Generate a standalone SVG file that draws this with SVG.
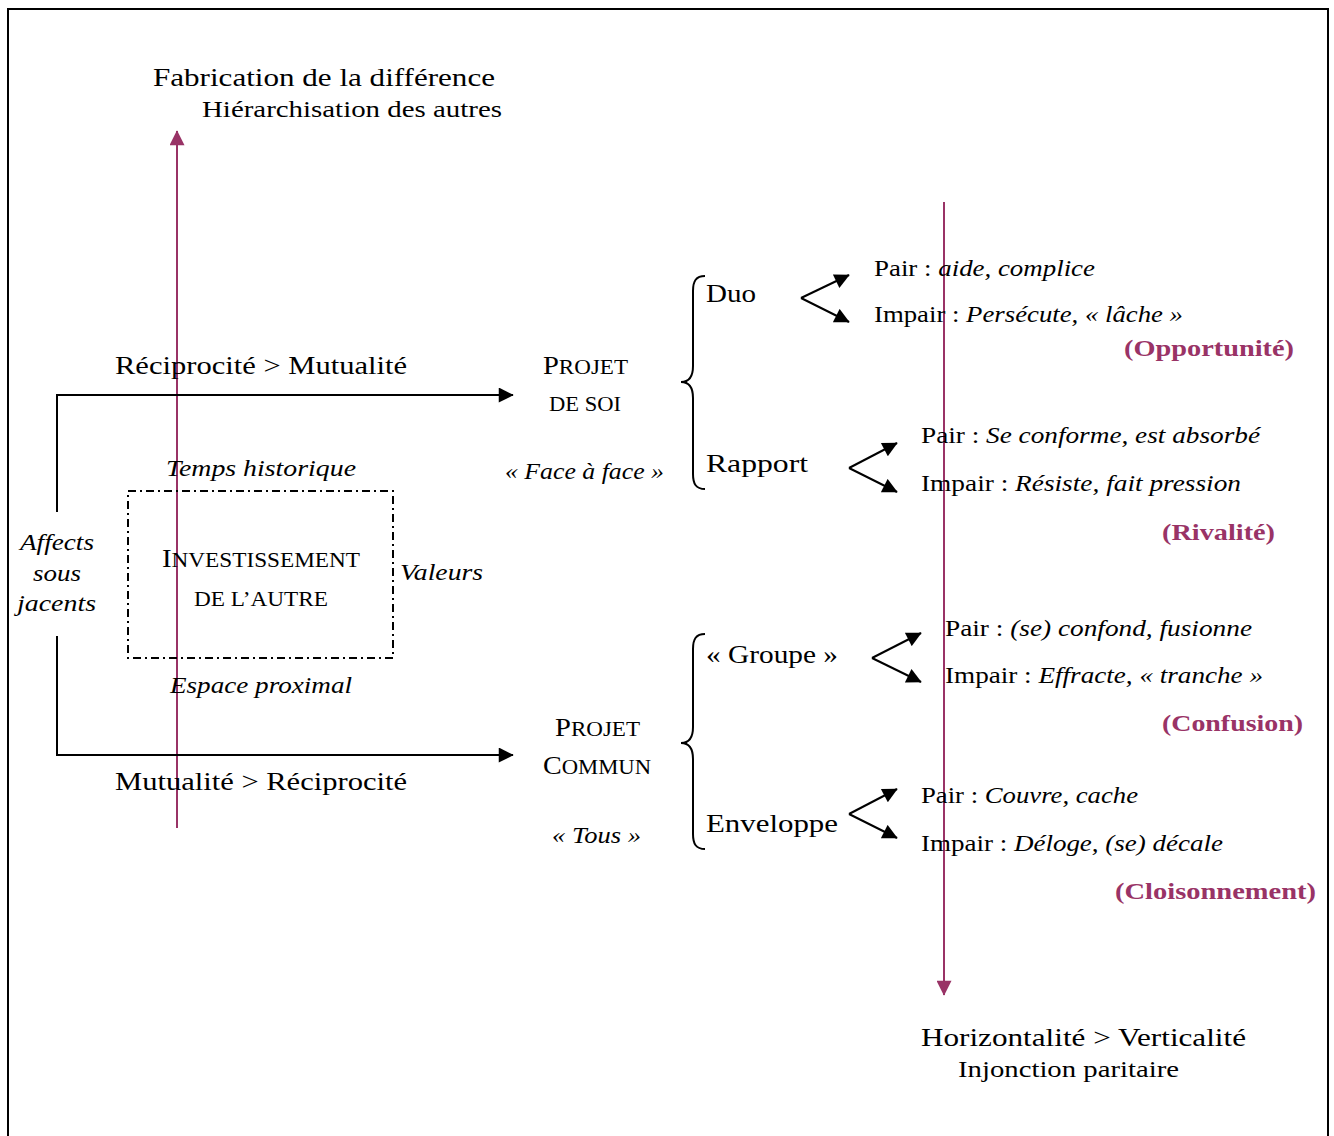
<svg xmlns="http://www.w3.org/2000/svg" width="1334" height="1136" viewBox="0 0 1334 1136">
<defs>
<marker id="ah" viewBox="0 0 10 10" refX="9.5" refY="5" markerUnits="userSpaceOnUse" markerWidth="17" markerHeight="15" orient="auto"><path d="M0,0 L10,5 L0,10 z" fill="#000"/></marker>
<marker id="ahp" viewBox="0 0 10 10" refX="9.5" refY="5" markerUnits="userSpaceOnUse" markerWidth="17" markerHeight="15" orient="auto"><path d="M0,0 L10,5 L0,10 z" fill="#993366"/></marker>
<style>
text{font-family:"Liberation Serif","Times New Roman",serif;fill:#000;}
.big{font-size:26px;}
.mid{font-size:23px;}
.it{font-style:italic;}
.sc{font-size:21px;}
.lab{font-size:23px;font-weight:bold;fill:#993366;}
.blk{stroke:#000;stroke-width:2;fill:none;}
.pur{stroke:#993366;stroke-width:2;fill:none;}
</style>
</defs>
<rect x="8" y="9" width="1320" height="1200" fill="#fff" stroke="#000" stroke-width="2"/>

<g id="connectors">
<line class="pur" x1="177" y1="828" x2="177" y2="131" marker-end="url(#ahp)"/>
<line class="pur" x1="944" y1="202" x2="944" y2="995" marker-end="url(#ahp)"/>
<polyline class="blk" points="57,512 57,395 513,395" marker-end="url(#ah)"/>
<polyline class="blk" points="57,636 57,755 513,755" marker-end="url(#ah)"/>
<path class="blk" d="M705,276 C696,276 693,281 693,291 L693,366 C693,376 690,382 681,382 C690,382 693,388 693,398 L693,474 C693,484 696,489 705,489"/>
<path class="blk" d="M705,634 C696,634 693,639 693,649 L693,727 C693,737 690,743 681,743 C690,743 693,749 693,759 L693,834 C693,844 696,849 705,849"/>
<line class="blk" x1="801" y1="298" x2="849" y2="275" marker-end="url(#ah)"/>
<line class="blk" x1="801" y1="298" x2="849" y2="322" marker-end="url(#ah)"/>
<line class="blk" x1="849" y1="468" x2="897" y2="443" marker-end="url(#ah)"/>
<line class="blk" x1="849" y1="468" x2="897" y2="492" marker-end="url(#ah)"/>
<line class="blk" x1="872" y1="658" x2="921" y2="633" marker-end="url(#ah)"/>
<line class="blk" x1="872" y1="658" x2="921" y2="682" marker-end="url(#ah)"/>
<line class="blk" x1="849" y1="814" x2="897" y2="789" marker-end="url(#ah)"/>
<line class="blk" x1="849" y1="814" x2="897" y2="838" marker-end="url(#ah)"/>
</g>

<g id="top-label">
<text class="big" x="153" y="86" textLength="342" lengthAdjust="spacingAndGlyphs">Fabrication de la différence</text>
<text class="mid" x="202" y="117" textLength="300" lengthAdjust="spacingAndGlyphs">Hiérarchisation des autres</text>
</g>
<g id="bottom-label">
<text class="big" x="921" y="1046" textLength="325" lengthAdjust="spacingAndGlyphs">Horizontalité &gt; Verticalité</text>
<text class="mid" x="958" y="1077" textLength="221" lengthAdjust="spacingAndGlyphs">Injonction paritaire</text>
</g>
<g id="edge-labels">
<text class="big" x="115" y="374" textLength="292" lengthAdjust="spacingAndGlyphs">Réciprocité &gt; Mutualité</text>
<text class="big" x="115" y="790" textLength="292" lengthAdjust="spacingAndGlyphs">Mutualité &gt; Réciprocité</text>
</g>
<g id="affects">
<text class="mid it" x="20" y="550" textLength="74" lengthAdjust="spacingAndGlyphs">Affects</text>
<text class="mid it" x="33" y="581" textLength="48" lengthAdjust="spacingAndGlyphs">sous</text>
<text class="mid it" x="17" y="611" textLength="79" lengthAdjust="spacingAndGlyphs">jacents</text>
</g>
<g id="investissement">
<rect x="128" y="491" width="265" height="167" fill="none" stroke="#000" stroke-width="2" stroke-dasharray="8,4,2,4"/>
<text class="mid it" x="166" y="476" textLength="190" lengthAdjust="spacingAndGlyphs">Temps historique</text>
<text class="big" x="162" y="567" textLength="198" lengthAdjust="spacingAndGlyphs">I<tspan class="sc">NVESTISSEMENT</tspan></text>
<text class="sc" x="194" y="606" textLength="134" lengthAdjust="spacingAndGlyphs">DE L’AUTRE</text>
<text class="mid it" x="400" y="580" textLength="83" lengthAdjust="spacingAndGlyphs">Valeurs</text>
<text class="mid it" x="170" y="693" textLength="182" lengthAdjust="spacingAndGlyphs">Espace proximal</text>
</g>
<g id="projet-soi">
<text class="big" x="543" y="374" textLength="85" lengthAdjust="spacingAndGlyphs">P<tspan class="sc">ROJET</tspan></text>
<text class="sc" x="549" y="411" textLength="72" lengthAdjust="spacingAndGlyphs">DE SOI</text>
<text class="mid it" x="505" y="479" textLength="159" lengthAdjust="spacingAndGlyphs">« Face à face »</text>
</g>
<g id="projet-commun">
<text class="big" x="555" y="736" textLength="85" lengthAdjust="spacingAndGlyphs">P<tspan class="sc">ROJET</tspan></text>
<text class="big" x="543" y="774" textLength="108" lengthAdjust="spacingAndGlyphs">C<tspan class="sc">OMMUN</tspan></text>
<text class="mid it" x="552" y="843" textLength="89" lengthAdjust="spacingAndGlyphs">« Tous »</text>
</g>
<g id="duo">
<text class="big" x="706" y="302" textLength="50" lengthAdjust="spacingAndGlyphs">Duo</text>
<text class="mid" x="874" y="276" textLength="221" lengthAdjust="spacingAndGlyphs">Pair : <tspan class="it">aide, complice</tspan></text>
<text class="mid" x="874" y="322" textLength="309" lengthAdjust="spacingAndGlyphs">Impair : <tspan class="it">Persécute, « lâche »</tspan></text>
<text class="lab" x="1124" y="356" textLength="170" lengthAdjust="spacingAndGlyphs">(Opportunité)</text>
</g>
<g id="rapport">
<text class="big" x="706" y="472" textLength="102" lengthAdjust="spacingAndGlyphs">Rapport</text>
<text class="mid" x="921" y="443" textLength="339" lengthAdjust="spacingAndGlyphs">Pair : <tspan class="it">Se conforme, est absorbé</tspan></text>
<text class="mid" x="921" y="491" textLength="320" lengthAdjust="spacingAndGlyphs">Impair : <tspan class="it">Résiste, fait pression</tspan></text>
<text class="lab" x="1162" y="540" textLength="113" lengthAdjust="spacingAndGlyphs">(Rivalité)</text>
</g>
<g id="groupe">
<text class="big" x="706" y="663" textLength="132" lengthAdjust="spacingAndGlyphs">« Groupe »</text>
<text class="mid" x="945" y="636" textLength="307" lengthAdjust="spacingAndGlyphs">Pair : <tspan class="it">(se) confond, fusionne</tspan></text>
<text class="mid" x="945" y="683" textLength="318" lengthAdjust="spacingAndGlyphs">Impair : <tspan class="it">Effracte, « tranche »</tspan></text>
<text class="lab" x="1162" y="731" textLength="141" lengthAdjust="spacingAndGlyphs">(Confusion)</text>
</g>
<g id="enveloppe">
<text class="big" x="706" y="832" textLength="132" lengthAdjust="spacingAndGlyphs">Enveloppe</text>
<text class="mid" x="921" y="803" textLength="217" lengthAdjust="spacingAndGlyphs">Pair : <tspan class="it">Couvre, cache</tspan></text>
<text class="mid" x="921" y="851" textLength="302" lengthAdjust="spacingAndGlyphs">Impair : <tspan class="it">Déloge, (se) décale</tspan></text>
<text class="lab" x="1115" y="899" textLength="201" lengthAdjust="spacingAndGlyphs">(Cloisonnement)</text>
</g>
</svg>
